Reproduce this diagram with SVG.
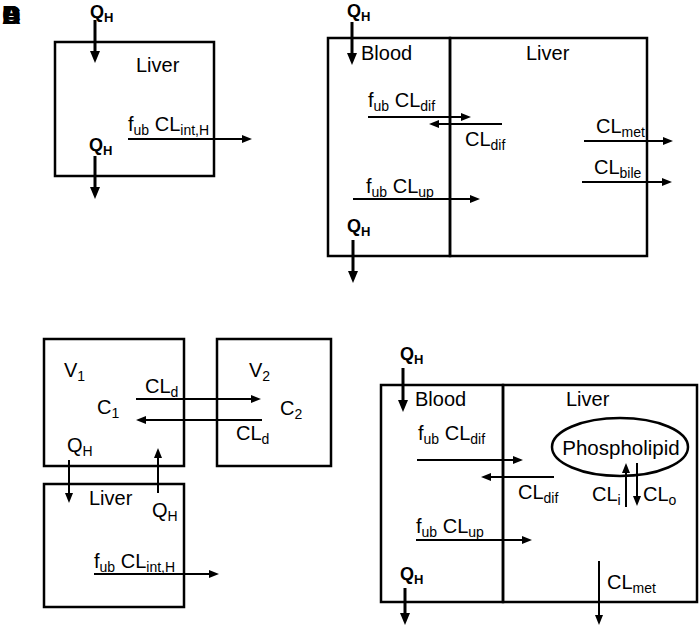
<svg xmlns="http://www.w3.org/2000/svg" width="700" height="630" viewBox="0 0 700 630">
<style>
text{font-family:"Liberation Sans",Arial,sans-serif;fill:#000}
.t{font-size:20px}
.s{font-size:14px}
.q{font-size:18px;font-weight:bold}
.qs{font-size:13px;font-weight:bold}
.lbl{font-size:26px;font-weight:bold}
.box{fill:none;stroke:#000;stroke-width:2.5}
.c{stroke:#000;stroke-width:2;fill:none}
.ck{stroke:#000;stroke-width:3;fill:none}
</style>
<defs>
<marker id="ah" markerUnits="userSpaceOnUse" markerWidth="11" markerHeight="8" refX="2" refY="4" orient="auto"><path d="M0,0 L10,4 L0,8 z" fill="#000"/></marker>
<marker id="ahb" markerUnits="userSpaceOnUse" markerWidth="13" markerHeight="11" refX="2" refY="5" orient="auto"><path d="M0,0 L12,5 L0,10 z" fill="#000"/></marker>
</defs>
<rect width="700" height="630" fill="#fff"/>
<g id="panel-labels">
<text class="lbl" x="2" y="24">A</text>
<text class="lbl" x="2" y="24">B</text>
<text class="lbl" x="2" y="24">C</text>
<text class="lbl" x="2" y="24">D</text>
</g>
<!-- Panel A -->
<g id="a-liver">
<rect class="box" x="55" y="42" width="159" height="134"/>
<text class="t" x="136" y="72">Liver</text>
</g>
<!-- Panel B -->
<g id="b-blood">
<rect class="box" x="328" y="38" width="122" height="218"/>
<text class="t" x="361" y="60">Blood</text>
</g>
<g id="b-liver">
<rect class="box" x="450" y="38" width="197" height="218"/>
<text class="t" x="526" y="60">Liver</text>
</g>
<!-- Panel C -->
<g id="c-v1">
<rect class="box" x="44" y="339" width="140" height="127"/>
<text class="t" x="64" y="377">V<tspan class="s" dy="4">1</tspan></text>
<text class="t" x="97" y="414">C<tspan class="s" dy="4">1</tspan></text>
</g>
<g id="c-v2">
<rect class="box" x="217" y="339" width="114" height="127"/>
<text class="t" x="249" y="377">V<tspan class="s" dy="4">2</tspan></text>
<text class="t" x="280" y="415">C<tspan class="s" dy="4">2</tspan></text>
</g>
<g id="c-liver">
<rect class="box" x="44" y="484" width="140" height="123"/>
<text class="t" x="89" y="505">Liver</text>
</g>
<!-- Panel D -->
<g id="d-blood">
<rect class="box" x="381" y="385" width="122" height="217"/>
<text class="t" x="415" y="406">Blood</text>
</g>
<g id="d-liver">
<rect class="box" x="503" y="385" width="194" height="217"/>
<text class="t" x="566" y="406">Liver</text>
</g>
<g id="d-phospholipid">
<ellipse cx="620" cy="447" rx="68" ry="29" fill="none" stroke="#000" stroke-width="2.5"/>
<text x="621" y="455" font-size="20.5" text-anchor="middle">Phospholipid</text>
</g>
<g id="connectors">
<!-- A -->
<line class="ck" x1="95" y1="20" x2="95" y2="53" marker-end="url(#ahb)"/>
<line class="c" x1="128" y1="139" x2="244" y2="139" marker-end="url(#ah)"/>
<line class="ck" x1="95" y1="156" x2="95" y2="189" marker-end="url(#ahb)"/>
<!-- B -->
<line class="ck" x1="352" y1="22" x2="352" y2="55" marker-end="url(#ahb)"/>
<line class="c" x1="368" y1="117" x2="463" y2="117" marker-end="url(#ah)"/>
<line class="c" x1="502" y1="124" x2="437" y2="124" marker-end="url(#ah)"/>
<line class="c" x1="584" y1="141" x2="665" y2="141" marker-end="url(#ah)"/>
<line class="c" x1="582" y1="182" x2="664" y2="182" marker-end="url(#ah)"/>
<line class="c" x1="353" y1="199" x2="472" y2="199" marker-end="url(#ah)"/>
<line class="ck" x1="353" y1="240" x2="353" y2="273" marker-end="url(#ahb)"/>
<!-- C -->
<line class="c" x1="136" y1="399" x2="253" y2="399" marker-end="url(#ah)"/>
<line class="c" x1="262" y1="420" x2="144" y2="420" marker-end="url(#ah)"/>
<line class="c" x1="69" y1="460" x2="69" y2="495" marker-end="url(#ah)"/>
<line class="c" x1="158" y1="493" x2="158" y2="456" marker-end="url(#ah)"/>
<line class="c" x1="94" y1="574" x2="211" y2="574" marker-end="url(#ah)"/>
<!-- D -->
<line class="ck" x1="403" y1="368" x2="403" y2="402" marker-end="url(#ahb)"/>
<line class="c" x1="417" y1="460" x2="515" y2="460" marker-end="url(#ah)"/>
<line class="c" x1="554" y1="477" x2="489" y2="477" marker-end="url(#ah)"/>
<line class="c" x1="626" y1="507" x2="626" y2="471" marker-end="url(#ah)"/>
<line class="c" x1="637" y1="463" x2="637" y2="498" marker-end="url(#ah)"/>
<line class="c" x1="416" y1="540" x2="524" y2="540" marker-end="url(#ah)"/>
<line class="ck" x1="405" y1="588" x2="405" y2="615" marker-end="url(#ahb)"/>
<line class="c" x1="599" y1="561" x2="599" y2="617" marker-end="url(#ah)"/>
</g>
<g id="connector-labels">
<!-- A -->
<text class="q" x="90" y="18">Q<tspan class="qs" dy="4">H</tspan></text>
<text class="t" x="128" y="131">f<tspan class="s" dy="4">ub</tspan><tspan dy="-4"> CL</tspan><tspan class="s" dy="4">int,H</tspan></text>
<text class="q" x="89" y="151">Q<tspan class="qs" dy="4">H</tspan></text>
<!-- B -->
<text class="q" x="347" y="17">Q<tspan class="qs" dy="4">H</tspan></text>
<text class="t" x="368" y="107">f<tspan class="s" dy="4">ub</tspan><tspan dy="-4"> CL</tspan><tspan class="s" dy="4">dif</tspan></text>
<text class="t" x="465" y="146">CL<tspan class="s" dy="4">dif</tspan></text>
<text class="t" x="596" y="133">CL<tspan class="s" dy="4">met</tspan></text>
<text class="t" x="594" y="174">CL<tspan class="s" dy="4">bile</tspan></text>
<text class="t" x="366" y="193">f<tspan class="s" dy="4">ub</tspan><tspan dy="-4"> CL</tspan><tspan class="s" dy="4">up</tspan></text>
<text class="q" x="347" y="232">Q<tspan class="qs" dy="4">H</tspan></text>
<!-- C -->
<text class="t" x="145" y="393">CL<tspan class="s" dy="4">d</tspan></text>
<text class="t" x="236" y="440">CL<tspan class="s" dy="4">d</tspan></text>
<text class="t" x="67" y="452">Q<tspan class="s" dy="4">H</tspan></text>
<text class="t" x="152" y="517">Q<tspan class="s" dy="4">H</tspan></text>
<text class="t" x="94" y="568">f<tspan class="s" dy="4">ub</tspan><tspan dy="-4"> CL</tspan><tspan class="s" dy="4">int,H</tspan></text>
<!-- D -->
<text class="q" x="400" y="360">Q<tspan class="qs" dy="4">H</tspan></text>
<text class="t" x="418" y="440">f<tspan class="s" dy="4">ub</tspan><tspan dy="-4"> CL</tspan><tspan class="s" dy="4">dif</tspan></text>
<text class="t" x="518" y="499">CL<tspan class="s" dy="4">dif</tspan></text>
<text class="t" x="592" y="501">CL<tspan class="s" dy="4">i</tspan></text>
<text class="t" x="643" y="501">CL<tspan class="s" dy="4">o</tspan></text>
<text class="t" x="416" y="533">f<tspan class="s" dy="4">ub</tspan><tspan dy="-4"> CL</tspan><tspan class="s" dy="4">up</tspan></text>
<text class="q" x="400" y="580">Q<tspan class="qs" dy="4">H</tspan></text>
<text class="t" x="607" y="589">CL<tspan class="s" dy="4">met</tspan></text>
</g>
</svg>
